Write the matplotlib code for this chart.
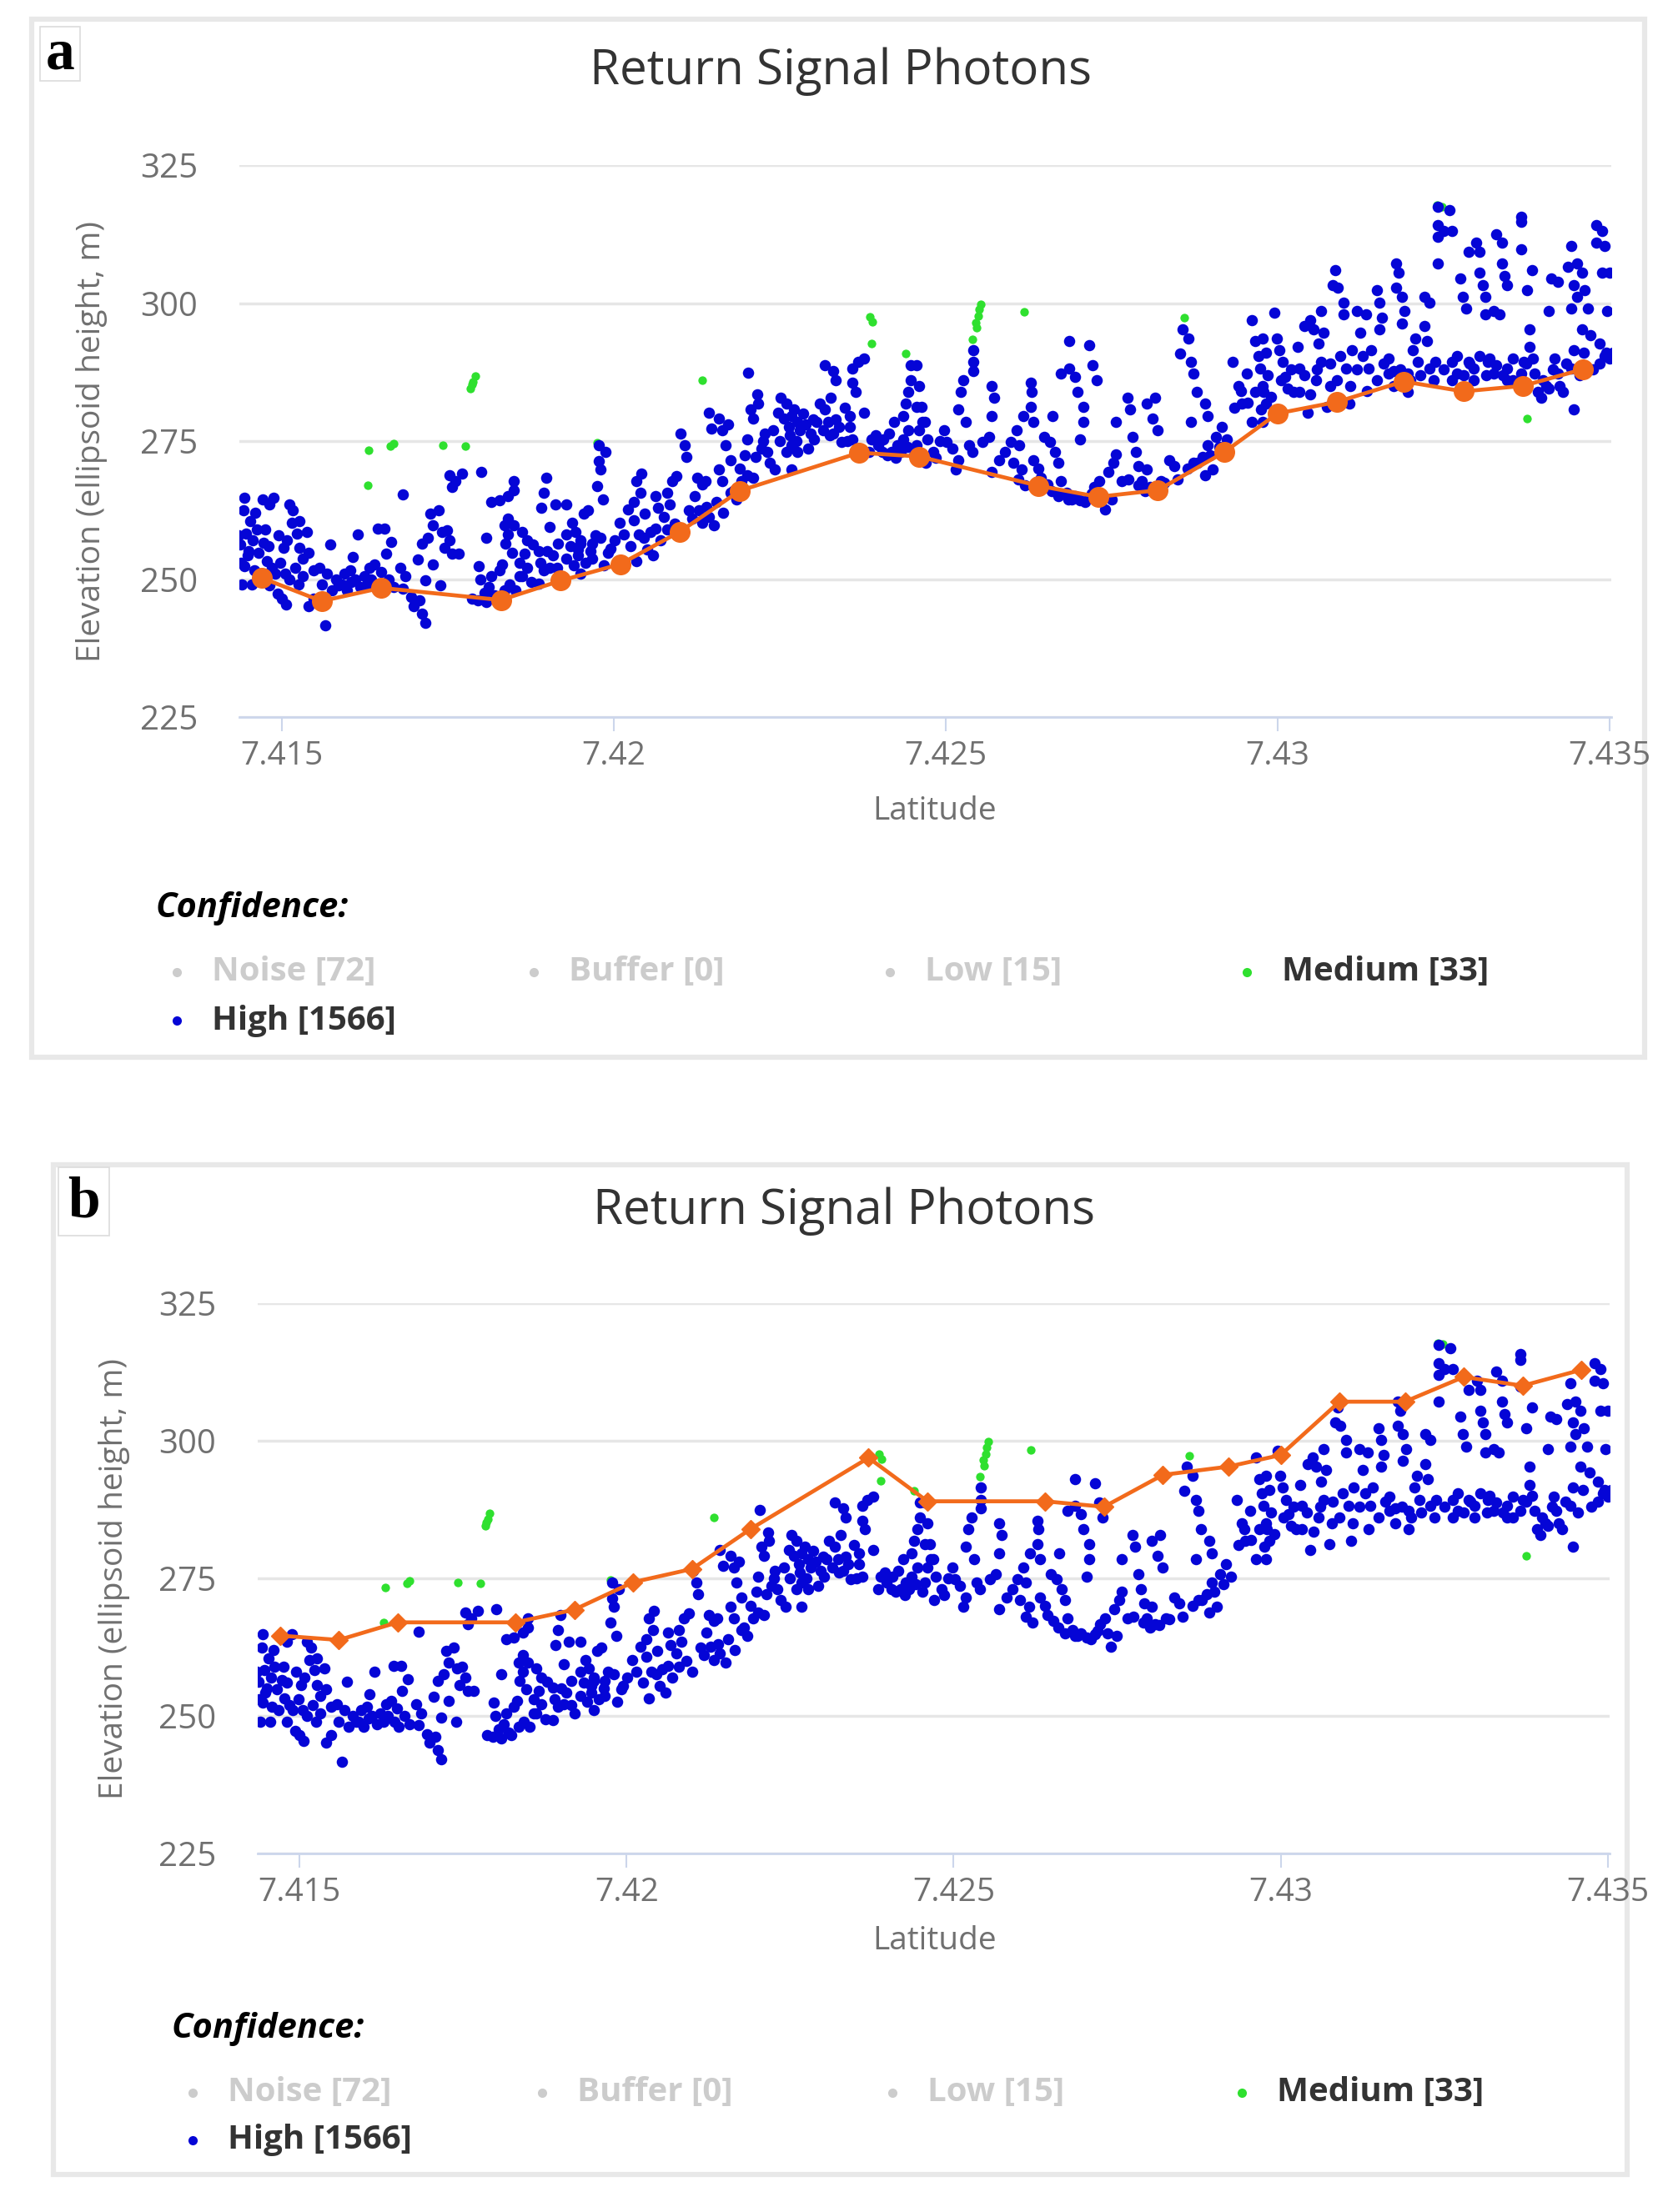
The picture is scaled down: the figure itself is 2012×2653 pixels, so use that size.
import matplotlib
matplotlib.use("Agg")
import matplotlib.pyplot as plt
from matplotlib.patches import Rectangle

# ---- data ------------------------------------------------------------------
# 100 m segment latitudes for the orange line (same along-track segments in a and b)
seg_lat = [7.4147, 7.4156, 7.4165, 7.4183, 7.4192, 7.4201, 7.4210, 7.4219,
           7.4237, 7.4246, 7.4264, 7.4273, 7.4282, 7.4292, 7.4300, 7.4309,
           7.4319, 7.4328, 7.4337, 7.4346]
# panel a: ground line, panel b: top-of-canopy line
line_a_elev = [250.2, 246.0, 248.4, 246.2, 249.7, 252.7, 258.6, 266.0, 272.9, 272.2,
               266.9, 264.9, 266.1, 273.0, 280.0, 282.1, 285.8, 284.0, 285.0, 288.0]
line_b_elev = [264.6, 263.8, 267.0, 267.0, 269.3, 274.3, 276.7, 284.0, 296.9, 289.0,
               289.0, 288.0, 293.8, 295.3, 297.4, 307.1, 307.1, 311.6, 310.0, 312.9]

# medium confidence photons (green)
medium_lat = [7.41629, 7.41631, 7.41664, 7.41668, 7.41742, 7.41777, 7.41784, 7.41788,
              7.41791, 7.41786, 7.41975, 7.42133, 7.42386, 7.42390, 7.42388, 7.42440,
              7.42545, 7.42549, 7.42551, 7.42553, 7.42547, 7.42540, 7.42618, 7.42860,
              7.43240, 7.43248, 7.43376]
medium_elev = [267.0, 273.3, 274.1, 274.6, 274.3, 274.1, 284.5, 285.8,
               286.8, 285.2, 274.7, 286.1, 297.5, 296.6, 292.7, 290.9,
               296.5, 297.6, 298.8, 299.8, 295.5, 293.5, 298.4, 297.3,
               317.7, 317.5, 279.1]

# high confidence photons (blue), sampled from the cloud, west to east
high_lat = [
    # 7.4143 - 7.4195
    7.41444, 7.41442, 7.41452, 7.41446, 7.41437, 7.41456, 7.41465, 7.41448, 7.41473, 7.41477,
    7.41444, 7.41458, 7.41471, 7.41488, 7.41481, 7.41511, 7.41517, 7.41515, 7.41527, 7.41523,
    7.41538, 7.41502, 7.41527, 7.41532, 7.41540, 7.41490, 7.41511, 7.41481, 7.41494, 7.41506,
    7.41500, 7.41532, 7.41548, 7.41557, 7.41540, 7.41548, 7.41565, 7.41573, 7.41582, 7.41586,
    7.41594, 7.41603, 7.41611, 7.41607, 7.41615, 7.41624, 7.41632, 7.41644, 7.41655, 7.41665,
    7.41657, 7.41640, 7.41649, 7.41661, 7.41682, 7.41678, 7.41686, 7.41682, 7.41695, 7.41699,
    7.41707, 7.41711, 7.41716, 7.41705, 7.41711, 7.41716, 7.41724, 7.41728, 7.41720, 7.41736,
    7.41741, 7.41749, 7.41753, 7.41757, 7.41745, 7.41766, 7.41739, 7.41728, 7.41753, 7.41762,
    7.41757, 7.41772, 7.41801, 7.41808, 7.41797, 7.41799, 7.41816, 7.41828, 7.41832, 7.41787,
    7.41795, 7.41808, 7.41824, 7.41835, 7.41841, 7.41841, 7.41849, 7.41837, 7.41847, 7.41862,
    7.41870, 7.41878, 7.41866, 7.41887, 7.41858, 7.41870, 7.41862, 7.41876, 7.41816, 7.41828,
    7.41841, 7.41849, 7.41849, 7.41899, 7.41895, 7.41891, 7.41912, 7.41929, 7.41937, 7.41904,
    7.41929, 7.41916, 7.41908, 7.41929, 7.41950, 7.41946, 7.41895, 7.41904, 7.41950, 7.41887,
    # 7.4194 - 7.4247
    7.41946, 7.41955, 7.41961, 7.41942, 7.41950, 7.41967, 7.41980, 7.41978, 7.41988, 7.41978,
    7.41980, 7.41975, 7.41984, 7.41967, 7.41992, 7.42001, 7.42009, 7.42015, 7.42021, 7.42030,
    7.42034, 7.42042, 7.42040, 7.42047, 7.42030, 7.42038, 7.42051, 7.42059, 7.42034, 7.42063,
    7.42067, 7.42063, 7.42080, 7.42088, 7.42095, 7.42076, 7.42084, 7.42101, 7.42107, 7.42109,
    7.42113, 7.42122, 7.42126, 7.42134, 7.42139, 7.42134, 7.42143, 7.42151, 7.42143, 7.42159,
    7.42172, 7.42147, 7.42164, 7.42168, 7.42159, 7.42176, 7.42164, 7.42176, 7.42185, 7.42193,
    7.42201, 7.42210, 7.42203, 7.42206, 7.42210, 7.42216, 7.42218, 7.42201, 7.42214, 7.42222,
    7.42227, 7.42231, 7.42235, 7.42243, 7.42252, 7.42260, 7.42248, 7.42256, 7.42264, 7.42268,
    7.42272, 7.42277, 7.42281, 7.42289, 7.42297, 7.42302, 7.42306, 7.42310, 7.42318, 7.42327,
    7.42323, 7.42331, 7.42339, 7.42343, 7.42268, 7.42260, 7.42277, 7.42293, 7.42268, 7.42318,
    7.42331, 7.42335, 7.42360, 7.42368, 7.42377, 7.42360, 7.42364, 7.42356, 7.42356, 7.42360,
    7.42377, 7.42389, 7.42398, 7.42406, 7.42415, 7.42419, 7.42427, 7.42436, 7.42444, 7.42423,
    7.42436, 7.42440, 7.42444, 7.42448, 7.42448, 7.42456, 7.42456, 7.42465,
    # 7.4245 - 7.4298
    7.42456, 7.42460, 7.42464, 7.42469, 7.42460, 7.42473, 7.42481, 7.42498, 7.42502, 7.42510,
    7.42519, 7.42515, 7.42519, 7.42523, 7.42527, 7.42531, 7.42535, 7.42540, 7.42542, 7.42542,
    7.42542, 7.42556, 7.42565, 7.42569, 7.42573, 7.42569, 7.42569, 7.42581, 7.42590, 7.42598,
    7.42607, 7.42611, 7.42602, 7.42615, 7.42617, 7.42628, 7.42630, 7.42628, 7.42632, 7.42632,
    7.42644, 7.42653, 7.42649, 7.42657, 7.42661, 7.42665, 7.42670, 7.42674, 7.42682, 7.42690,
    7.42703, 7.42716, 7.42686, 7.42674, 7.42686, 7.42695, 7.42699, 7.42707, 7.42707, 7.42703,
    7.42716, 7.42722, 7.42728, 7.42724, 7.42732, 7.42740, 7.42745, 7.42753, 7.42757, 7.42757,
    7.42766, 7.42774, 7.42778, 7.42782, 7.42787, 7.42791, 7.42795, 7.42803, 7.42808, 7.42803,
    7.42816, 7.42812, 7.42820, 7.42824, 7.42837, 7.42845, 7.42853, 7.42857, 7.42866, 7.42870,
    7.42874, 7.42878, 7.42891, 7.42895, 7.42870, 7.42874, 7.42887, 7.42895, 7.42908, 7.42916,
    7.42924, 7.42891, 7.42903, 7.42933, 7.42941, 7.42946, 7.42954, 7.42962, 7.42967, 7.42971,
    7.42967, 7.42975, 7.42962, 7.42979,
    # 7.4297 - 7.4351
    7.42978, 7.42983, 7.42974, 7.42978, 7.42983, 7.42978, 7.42995, 7.42999, 7.43003, 7.43008,
    7.43012, 7.43016, 7.43024, 7.43033, 7.43033, 7.43041, 7.43049, 7.43054, 7.43066, 7.43070,
    7.43062, 7.43066, 7.43058, 7.43079, 7.43075, 7.43045, 7.43087, 7.43083, 7.43091, 7.43100,
    7.43100, 7.43095, 7.43104, 7.43112, 7.43108, 7.43120, 7.43125, 7.43129, 7.43133, 7.43137,
    7.43141, 7.43150, 7.43154, 7.43158, 7.43154, 7.43167, 7.43167, 7.43175, 7.43179, 7.43183,
    7.43179, 7.43187, 7.43192, 7.43187, 7.43196, 7.43196, 7.43204, 7.43208, 7.43212, 7.43221,
    7.43225, 7.43221, 7.43229, 7.43229, 7.43238, 7.43242, 7.43242, 7.43250, 7.43242, 7.43263,
    7.43242, 7.43259, 7.43263, 7.43271, 7.43271, 7.43275, 7.43279, 7.43284, 7.43288, 7.43300,
    7.43305, 7.43288, 7.43296, 7.43305, 7.43309, 7.43313, 7.43313, 7.43305, 7.43317, 7.43326,
    7.43330, 7.43338, 7.43338, 7.43342, 7.43346, 7.43334, 7.43330, 7.43346, 7.43355, 7.43367,
    7.43367, 7.43367, 7.43376, 7.43371, 7.43380, 7.43384, 7.43380, 7.43388, 7.43392, 7.43405,
    7.43409, 7.43413, 7.43422, 7.43418, 7.43422, 7.43443, 7.43438, 7.43451, 7.43447, 7.43451,
    7.43443, 7.43447, 7.43443, 7.43447, 7.43459, 7.43463, 7.43468, 7.43459, 7.43472, 7.43480,
    7.43489, 7.43480, 7.43493, 7.43489, 7.43501, 7.43497, 7.43485, 7.43493, 7.43501, 7.43505,
    7.43346, 7.43367, 7.43409, 7.43430, 7.43397, 7.43326, 7.43296, 7.43263,
]
high_elev = [
    # 7.4143 - 7.4195
    264.8, 262.4, 260.5, 258.3, 256.2, 257.0, 254.8, 254.3, 256.5, 253.2,
    252.4, 251.6, 264.5, 264.8, 263.5, 263.5, 262.4, 260.2, 260.5, 258.3,
    258.6, 255.6, 255.6, 253.7, 254.8, 251.0, 250.0, 248.9, 247.3, 245.4,
    246.5, 250.5, 251.6, 252.1, 245.1, 246.5, 241.6, 256.2, 250.0, 248.9,
    251.0, 251.6, 250.0, 254.0, 258.1, 250.5, 252.1, 259.1, 259.1, 256.7,
    254.6, 252.7, 251.3, 250.0, 265.3, 252.1, 250.5, 248.3, 246.7, 245.1,
    246.2, 243.8, 242.1, 253.5, 256.4, 249.7, 261.8, 259.7, 257.5, 262.4,
    258.6, 258.9, 257.0, 254.6, 255.6, 254.6, 248.9, 252.7, 268.8, 267.7,
    266.7, 269.1, 269.4, 257.5, 252.4, 250.0, 250.5, 251.6, 252.7, 246.5,
    246.2, 245.9, 246.5, 259.7, 261.0, 258.1, 259.7, 256.4, 254.8, 258.6,
    257.0, 256.2, 254.6, 255.1, 253.0, 252.1, 250.5, 249.4, 264.0, 264.3,
    265.1, 267.7, 266.1, 268.3, 265.6, 262.9, 263.5, 263.5, 260.2, 259.4,
    258.1, 256.4, 254.3, 253.7, 256.4, 254.3, 251.6, 252.1, 251.0, 249.2,
    # 7.4194 - 7.4247
    255.4, 261.8, 262.4, 258.6, 257.0, 256.4, 257.5, 274.2, 273.1, 271.3,
    269.9, 266.9, 264.5, 253.7, 254.8, 257.0, 260.2, 258.1, 262.6, 264.0,
    267.7, 269.1, 265.6, 261.8, 260.7, 258.1, 255.4, 254.3, 253.2, 265.1,
    262.9, 259.1, 265.6, 267.7, 268.6, 261.3, 263.5, 276.4, 274.2, 272.1,
    262.4, 265.1, 268.3, 267.2, 267.7, 260.2, 261.3, 259.7, 280.2, 279.1,
    278.0, 277.2, 276.9, 274.2, 269.9, 271.5, 267.7, 265.6, 264.5, 267.7,
    268.8, 268.3, 287.4, 280.7, 279.1, 283.4, 281.8, 275.3, 272.1, 273.7,
    276.4, 273.1, 271.0, 269.9, 282.9, 281.8, 280.2, 279.1, 277.5, 279.6,
    280.7, 278.5, 276.9, 278.0, 276.4, 275.3, 278.5, 281.8, 280.7, 282.9,
    278.5, 276.4, 277.5, 274.8, 274.2, 273.1, 273.1, 273.7, 269.9, 288.8,
    287.7, 286.1, 288.2, 289.3, 289.9, 285.5, 283.9, 279.6, 277.5, 275.3,
    280.2, 275.3, 274.2, 275.3, 276.4, 273.1, 274.2, 275.3, 276.9, 278.5,
    279.6, 281.8, 283.9, 286.1, 288.8, 281.2, 274.2, 278.5,
    # 7.4245 - 7.4298
    288.8, 285.0, 281.2, 278.5, 276.9, 275.3, 273.1, 276.9, 274.8, 273.7,
    271.5, 269.9, 280.7, 283.9, 286.1, 278.5, 274.2, 273.1, 291.5, 289.3,
    287.7, 274.8, 275.8, 285.0, 282.9, 279.6, 269.4, 271.5, 273.1, 274.8,
    276.9, 274.2, 271.0, 269.9, 279.6, 285.5, 283.9, 281.2, 278.5, 271.5,
    268.3, 267.2, 275.8, 274.8, 279.6, 273.1, 271.0, 267.7, 265.6, 264.5,
    264.2, 264.8, 293.1, 287.2, 288.2, 286.6, 283.9, 281.2, 278.5, 275.3,
    292.3, 288.8, 286.1, 266.7, 267.7, 262.6, 269.4, 271.0, 272.6, 278.5,
    267.7, 282.9, 280.7, 275.8, 273.1, 270.5, 267.7, 269.9, 266.7, 281.8,
    282.9, 279.1, 276.9, 267.7, 271.5, 270.5, 290.9, 295.3, 293.6, 289.3,
    287.2, 283.9, 281.8, 279.6, 278.5, 271.0, 272.1, 274.2, 275.8, 277.5,
    275.3, 268.8, 269.9, 289.3, 285.0, 281.8, 287.2, 296.9, 293.1, 290.4,
    283.9, 280.7, 278.5, 283.9,
    # 7.4297 - 7.4351
    293.6, 291.0, 288.2, 285.0, 281.8, 278.5, 298.2, 293.6, 291.5, 289.3,
    286.6, 284.5, 283.9, 288.2, 283.9, 295.8, 296.9, 295.3, 298.5, 294.7,
    292.6, 289.3, 286.1, 285.0, 281.2, 280.2, 306.0, 303.3, 302.8, 300.1,
    297.9, 290.4, 288.2, 291.5, 281.8, 298.5, 294.7, 290.4, 297.9, 288.2,
    291.5, 302.3, 300.1, 297.4, 295.3, 289.9, 287.2, 287.7, 307.1, 305.5,
    302.8, 301.2, 298.5, 296.3, 287.2, 283.9, 291.5, 293.6, 289.3, 295.8,
    293.1, 301.2, 300.1, 288.2, 289.3, 314.1, 312.0, 313.1, 307.1, 313.1,
    317.4, 316.8, 289.3, 290.4, 287.2, 304.4, 301.2, 299.0, 309.3, 310.9,
    309.3, 289.3, 288.2, 305.5, 303.3, 301.2, 297.9, 290.4, 289.3, 298.5,
    312.5, 310.9, 307.1, 304.9, 303.3, 297.9, 288.8, 288.2, 289.9, 315.7,
    314.7, 309.8, 302.3, 289.3, 295.3, 306.0, 292.0, 287.2, 283.9, 285.0,
    298.5, 304.4, 303.9, 289.9, 287.2, 310.4, 306.6, 307.1, 303.3, 301.2,
    299.0, 291.5, 288.2, 280.7, 305.5, 302.3, 299.0, 295.3, 294.2, 314.1,
    313.1, 310.9, 310.4, 305.5, 305.5, 298.5, 292.6, 290.4, 289.9, 291.0,
    286.1, 287.2, 284.5, 283.9, 282.9, 287.2, 286.1, 286.1,
]

# extra high confidence photons in the dense near-ground bands
band_lat = [
    7.41435, 7.41438, 7.41440, 7.41450, 7.41455, 7.41460, 7.41462, 7.41468, 7.41475, 7.41480,
    7.41485, 7.41495, 7.41498, 7.41505, 7.41508, 7.41520, 7.41525,
    7.41560, 7.41568, 7.41575, 7.41590, 7.41598, 7.41605, 7.41618, 7.41628, 7.41635, 7.41645,
    7.41652, 7.41668,
    7.41805, 7.41812, 7.41820, 7.41835, 7.41843, 7.41852, 7.41858,
    7.41890, 7.41900, 7.41915, 7.41920, 7.41935, 7.41940, 7.41958, 7.41965, 7.41972, 7.41985,
    7.41995,
    7.42025, 7.42045, 7.42055, 7.42070, 7.42080, 7.42092, 7.42100, 7.42118, 7.42128, 7.42140,
    7.42155, 7.42165, 7.42180,
    7.42190, 7.42198, 7.42225, 7.42240, 7.42250, 7.42265, 7.42275, 7.42285, 7.42300, 7.42315,
    7.42325, 7.42335, 7.42348, 7.42352,
    7.42385, 7.42395, 7.42405, 7.42412, 7.42425, 7.42432, 7.42442, 7.42452, 7.42470, 7.42485,
    7.42492,
    7.42610, 7.42620, 7.42640, 7.42660, 7.42670, 7.42685, 7.42695, 7.42710, 7.42720, 7.42735,
    7.42750,
    7.42775, 7.42790, 7.42800, 7.42815, 7.42830, 7.42850, 7.42865, 7.42880, 7.42898, 7.42912,
    7.42935, 7.42945, 7.42955, 7.42985, 7.42990, 7.43005, 7.43020, 7.43030, 7.43040, 7.43050,
    7.43060, 7.43080, 7.43090, 7.43110, 7.43120, 7.43135,
    7.43150, 7.43160, 7.43175, 7.43185, 7.43200, 7.43215, 7.43235, 7.43250, 7.43280, 7.43290,
    7.43315, 7.43320, 7.43340, 7.43355, 7.43375, 7.43385, 7.43400, 7.43415, 7.43425, 7.43435,
    7.43455, 7.43462, 7.43475, 7.43485, 7.43495,
]
band_elev = [
    258.0, 253.0, 249.0, 255.0, 249.0, 262.0, 259.0, 251.0, 259.0, 256.0,
    252.0, 258.0, 253.0, 251.0, 257.0, 252.0, 249.0,
    249.0, 251.0, 248.0, 249.0, 248.0, 249.5, 248.5, 249.0, 250.0, 249.0,
    248.0, 248.5,
    247.5, 248.5, 247.0, 248.0, 249.0, 248.0, 250.5,
    253.0, 255.0, 252.0, 250.5, 256.0, 252.5, 253.0, 255.0, 258.0, 252.5,
    255.5,
    256.0, 257.5, 258.5, 257.0, 259.0, 260.0, 258.0, 261.0, 262.5, 263.0,
    264.0, 262.0, 266.0,
    270.0, 272.5, 275.0, 277.0, 275.0, 276.0, 275.0, 280.0, 279.0, 277.0,
    276.0, 279.0, 281.0, 275.0,
    273.0, 276.0, 273.0, 272.5, 272.0, 273.0, 274.0, 272.5, 271.0, 272.0,
    275.0,
    268.0, 267.0, 270.0, 266.0, 265.0, 264.5, 265.0, 264.0, 265.5, 265.0,
    264.5,
    268.0, 267.0, 266.0, 266.5, 267.5, 268.0, 270.0, 271.0, 272.5, 274.0,
    281.0, 284.0, 282.0, 287.0, 283.0, 286.0, 288.0, 292.0, 287.0, 283.5,
    288.0, 289.0, 286.0, 285.0, 288.0, 284.0,
    286.0, 289.0, 285.0, 288.0, 286.0, 287.0, 286.0, 288.0, 287.0, 289.0,
    287.0, 290.0, 287.0, 286.0, 289.0, 290.0, 286.0, 288.0, 285.0, 289.0,
    287.0, 291.0, 288.0, 289.0, 291.0,
]

legend_names = ["Noise", "Buffer", "Low", "Medium", "High"]
legend_counts = [72, 0, 15, 33, 1566]
legend_active = [False, False, False, True, True]

y_ticks = [225, 250, 275, 300, 325]
x_ticks = [7.415, 7.42, 7.425, 7.43, 7.435]
x_tick_labels = ["7.415", "7.42", "7.425", "7.43", "7.435"]

# ---- styling -----------------------------------------------------------------
W, H = 2012, 2653
FONT = ["Open Sans", "DejaVu Sans"]
plt.rcParams["font.family"] = FONT

BLUE = "#0505d6"
GREEN = "#2fe02f"
ORANGE = "#f26a1b"
GREY_TXT = "#707070"
GRID = "#e6e6e6"
AXIS = "#ccd6eb"
INACTIVE = "#cccccc"

fig = plt.figure(figsize=(W / 100, H / 100), dpi=100)
fig.patch.set_facecolor("white")

# overlay in pixel coordinates for frames, panel letters and legends
ov = fig.add_axes([0, 0, 1, 1], zorder=0)
ov.set_xlim(0, W)
ov.set_ylim(H, 0)
ov.axis("off")


def fig_frac(x, y):
    return x / W, 1 - y / H


def draw_panel(letter, frame, letter_box, axes_box, title_xy, line_elev,
               line_marker, line_ms, ylab_x, xlab_xy, legend_origin, col_step, row_step):
    fx, fy, fw, fh = frame
    ov.add_patch(Rectangle((fx, fy), fw, fh, fill=False, ec="#e8e8e8", lw=4.5))
    bx, by, bw, bh = letter_box
    ov.add_patch(Rectangle((bx, by), bw, bh, fc="white", ec="#dcdcdc", lw=1.2))
    ov.text(bx + bw / 2, by + bh / 2 + 1, letter, ha="center", va="center",
            family="Liberation Serif", weight="bold", fontsize=50, color="black")

    tx, ty = title_xy
    ov.text(tx, ty, "Return Signal Photons", ha="center", va="center",
            fontsize=42, color="#333333")

    left, top, right, bottom = axes_box
    l, b = fig_frac(left, bottom)
    ax = fig.add_axes([l, b, (right - left) / W, (bottom - top) / H], zorder=1)
    ax.set_xlim(7.41436, 7.43503)
    ax.set_ylim(225, 325)

    ax.scatter(medium_lat, medium_elev, s=55, color=GREEN, linewidths=0, zorder=2)
    ax.scatter(high_lat + band_lat, high_elev + band_elev, s=95, color=BLUE,
               linewidths=0, zorder=3)
    ax.plot(seg_lat, line_elev, color=ORANGE, lw=3.4, marker=line_marker,
            ms=line_ms, mfc=ORANGE, mec=ORANGE, zorder=4)

    ax.set_yticks(y_ticks)
    ax.set_xticks(x_ticks)
    ax.set_xticklabels(x_tick_labels)
    ax.grid(axis="y", color=GRID, lw=2.5)
    ax.set_axisbelow(True)
    for side in ("top", "right", "left"):
        ax.spines[side].set_visible(False)
    ax.spines["bottom"].set_color(AXIS)
    ax.spines["bottom"].set_linewidth(2)
    ax.tick_params(axis="y", length=0, pad=36, labelsize=29, labelcolor=GREY_TXT)
    ax.tick_params(axis="x", length=12, width=1.5, color=AXIS, pad=8,
                   labelsize=28, labelcolor=GREY_TXT)

    ax.set_ylabel("Elevation (ellipsoid height, m)", fontsize=28, color=GREY_TXT, va="center")
    ax.yaxis.set_label_coords((ylab_x - left) / (right - left), 0.5)
    ax.set_xlabel("Latitude", fontsize=28, color=GREY_TXT, va="center")
    ax.xaxis.set_label_coords((xlab_xy[0] - left) / (right - left),
                              (bottom - xlab_xy[1]) / (bottom - top))

    # legend
    ox, oy = legend_origin
    ov.text(ox - 25, oy - 76, "Confidence:", ha="left", va="center", fontsize=30,
            weight="bold", style="italic", color="black")
    colors = [INACTIVE, INACTIVE, INACTIVE, GREEN, BLUE]
    for i, (name, count, active) in enumerate(zip(legend_names, legend_counts, legend_active)):
        col, row = i % 4, i // 4
        mx = ox + col * col_step
        my = oy + row * row_step
        ov.plot([mx], [my], "o", ms=8, color=colors[i], mew=0)
        ov.text(mx + 42, my, f"{name} [{count}]", ha="left", va="center", fontsize=29,
                weight="bold", color="#333333" if active else INACTIVE)
    return ax


draw_panel("a", (38, 23, 1934, 1245), (48, 32, 48, 65), (287, 198, 1932, 860),
           (1008, 86), line_a_elev, "o", 17, 110, (1121, 973), (212, 1166), 427.7, 58)
draw_panel("b", (64, 1397, 1887, 1211), (70, 1400, 61, 82), (309, 1563, 1930, 2223),
           (1012, 1453), line_b_elev, "D", 11, 137, (1121, 2328), (231, 2510), 419.3, 57)

fig.savefig("out.png", dpi=100, facecolor="white")
